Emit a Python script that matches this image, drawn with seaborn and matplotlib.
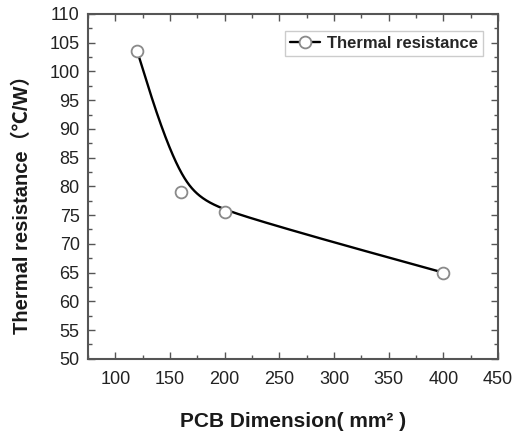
import numpy as np
import pandas as pd
import seaborn as sns
import matplotlib
matplotlib.use("Agg")
import matplotlib.pyplot as plt
from matplotlib.lines import Line2D
from matplotlib.ticker import MultipleLocator

# PCB dimension (mm^2) and measured thermal resistance (degC/W)
pcb_dimension = [120, 160, 200, 400]
thermal_resistance = [103.5, 79.0, 75.5, 65.0]
x_ticks = [100, 150, 200, 250, 300, 350, 400, 450]
y_ticks = [50, 55, 60, 65, 70, 75, 80, 85, 90, 95, 100, 105, 110]

sns.set_theme(style="ticks")
plt.rcParams["font.family"] = ["Liberation Sans", "Noto Sans CJK SC", "DejaVu Sans"]


def cubic_bspline(px, py, n=150):
    """Uniform cubic B-spline using the data as control points (end points tripled)."""
    P = np.column_stack([px, py]).astype(float)
    P = np.vstack([P[0], P[0], P, P[-1], P[-1]])
    t = np.linspace(0, 1, n)[:, None]
    b0 = (1 - t) ** 3 / 6
    b1 = (3 * t ** 3 - 6 * t ** 2 + 4) / 6
    b2 = (-3 * t ** 3 + 3 * t ** 2 + 3 * t + 1) / 6
    b3 = t ** 3 / 6
    segs = []
    for i in range(len(P) - 3):
        seg = b0 * P[i] + b1 * P[i + 1] + b2 * P[i + 2] + b3 * P[i + 3]
        segs.append(seg if i == 0 else seg[1:])
    out = np.vstack(segs)
    return out[:, 0], out[:, 1]


sx, sy = cubic_bspline(pcb_dimension, thermal_resistance)
curve = pd.DataFrame({"x": sx, "y": sy})
points = pd.DataFrame({"x": pcb_dimension, "y": thermal_resistance})

fig = plt.figure(figsize=(5.15, 4.36), dpi=100)
ax = fig.add_axes([0.171, 0.177, 0.796, 0.791])

sns.lineplot(data=curve, x="x", y="y", ax=ax, color="black", linewidth=1.7,
             sort=False, estimator=None)
ax.plot(points["x"], points["y"], linestyle="none", marker="o", markersize=8.5,
        markerfacecolor="white", markeredgecolor="#8a8a8a", markeredgewidth=1.3,
        zorder=3)

ax.set_xlim(75, 450)
ax.set_ylim(50, 110)
ax.set_xticks(x_ticks)
ax.set_yticks(y_ticks)
ax.xaxis.set_minor_locator(MultipleLocator(25))
ax.yaxis.set_minor_locator(MultipleLocator(2.5))
ax.tick_params(which="both", direction="in", top=True, right=True,
               color="#555555", width=1.0)
ax.tick_params(which="major", length=5, labelsize=13, labelcolor="#222222")
ax.tick_params(axis="x", which="major", pad=9)
ax.tick_params(axis="y", which="major", pad=6)
ax.tick_params(which="minor", length=3)
for s in ax.spines.values():
    s.set_visible(True)
    s.set_color("#555555")
    s.set_linewidth(1.5)

ax.set_xlabel("PCB Dimension( mm² )", fontsize=15, fontweight="bold",
              color="#1a1a1a", labelpad=17)
ax.set_ylabel("Thermal resistance（℃/W）", fontsize=14.5, fontweight="bold",
              color="#1a1a1a")
ax.yaxis.set_label_coords(-0.138, 0.46)

handle = Line2D([], [], color="black", linewidth=1.7, marker="o", markersize=8.5,
                markerfacecolor="white", markeredgecolor="#8a8a8a",
                markeredgewidth=1.3)
leg = ax.legend([handle], ["Thermal resistance"], loc="upper right",
                bbox_to_anchor=(0.963, 0.95), fancybox=False, framealpha=1,
                edgecolor="#cccccc", prop={"weight": "bold", "size": 12},
                handlelength=1.8, handletextpad=0.4, borderpad=0.3,
                borderaxespad=0.0)
leg.get_frame().set_linewidth(1.0)

fig.savefig("out.png", dpi=100)
